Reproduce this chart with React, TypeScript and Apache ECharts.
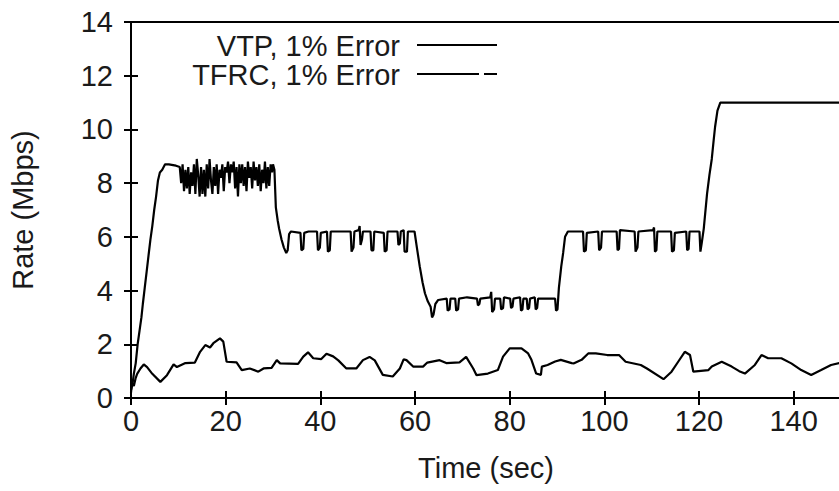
import { useEffect, useRef } from "react";
import * as echarts from "echarts";

// Sending rate over time, [seconds, Mbps]
const vtpSamples: [number, number][] = [
  [0, 0.3], [0.3, 0.5], [0.6, 0.9], [1.0, 1.3], [1.4, 2.0], [1.8, 2.5], [2.2, 3.0],
  [2.5, 3.5], [2.9, 4.1], [3.3, 4.7], [3.7, 5.3], [4.1, 5.9], [4.5, 6.4], [4.9, 7.0],
  [5.3, 7.5], [5.7, 8.1], [6.1, 8.4], [6.6, 8.5], [7.2, 8.7], [8.0, 8.7], [9.5, 8.65],
  [10.3, 8.6], [10.6, 8.0], [10.9, 8.7], [11.2, 7.7], [11.5, 8.5], [11.8, 7.8], [12.1, 8.6],
  [12.4, 7.6], [12.7, 8.4], [13.0, 7.9], [13.3, 8.7], [13.6, 7.6], [13.9, 8.9], [14.2, 8.3],
  [14.5, 7.5], [14.8, 8.6], [15.1, 7.6], [15.4, 8.5], [15.7, 7.5], [16.0, 8.7], [16.3, 7.8],
  [16.6, 8.9], [16.9, 8.1], [17.2, 7.6], [17.5, 8.6], [17.8, 7.9], [18.1, 8.7], [18.4, 7.6],
  [18.7, 8.5], [19.0, 8.2], [19.3, 8.7], [19.6, 7.7], [19.9, 8.6], [20.2, 8.4], [20.5, 8.8],
  [20.8, 8.0], [21.1, 8.7], [21.4, 8.4], [21.7, 8.8], [22.0, 7.8], [22.3, 8.6], [22.6, 7.5],
  [22.9, 8.7], [23.2, 8.0], [23.5, 8.7], [23.8, 7.9], [24.1, 8.6], [24.4, 7.7], [24.7, 8.8],
  [25.0, 8.2], [25.3, 8.6], [25.6, 7.8], [25.9, 8.8], [26.2, 8.1], [26.5, 8.6], [26.8, 7.9],
  [27.1, 8.7], [27.4, 7.7], [27.7, 8.5], [28.0, 8.0], [28.3, 8.8], [28.6, 7.8], [28.9, 8.6],
  [29.2, 7.9], [29.5, 8.7], [29.8, 8.4], [30.0, 8.7], [30.3, 8.5],
  [30.6, 7.1], [31.0, 6.6], [31.3, 6.3], [31.8, 5.9], [32.3, 5.6], [32.8, 5.4], [33.1, 5.5],
  [33.4, 6.1], [33.8, 6.2], [35.8, 6.15], [36.0, 5.5], [36.4, 5.55], [36.6, 6.15], [37.5, 6.2],
  [39.3, 6.2], [39.5, 5.5], [39.9, 5.6], [40.1, 6.15], [41.4, 6.2], [41.6, 5.45], [42.0, 5.5],
  [42.2, 6.2], [46.4, 6.2], [46.6, 5.45], [47.0, 5.6], [47.2, 6.2], [48.1, 6.25], [48.3, 6.4],
  [48.5, 5.7], [48.8, 5.9], [49.0, 6.2], [50.6, 6.2], [50.8, 5.5], [51.2, 5.5], [51.4, 6.2],
  [53.4, 6.15], [53.6, 5.45], [54.0, 5.5], [54.2, 6.2], [56.3, 6.2], [56.5, 5.7], [56.8, 5.75],
  [57.0, 6.2], [57.6, 6.25], [57.8, 5.45], [58.3, 5.45], [58.5, 6.2], [59.9, 6.2],
  [60.4, 5.6], [61.0, 4.9], [61.6, 4.3], [62.1, 3.9], [62.7, 3.6], [63.3, 3.4], [63.6, 3.0],
  [63.9, 3.1], [64.3, 3.5], [64.9, 3.65], [66.7, 3.7], [66.9, 3.25], [67.3, 3.3], [67.5, 3.7],
  [68.5, 3.7], [68.7, 3.25], [69.1, 3.3], [69.3, 3.7], [71.0, 3.75], [73.1, 3.7], [73.3, 3.45],
  [73.6, 3.5], [73.8, 3.7], [75.9, 3.75], [76.1, 3.95], [76.3, 3.2], [76.7, 3.3], [76.9, 3.7],
  [78.0, 3.7], [78.2, 3.3], [78.6, 3.35], [78.8, 3.75], [80.1, 3.7], [80.3, 3.35], [80.6, 3.4],
  [80.8, 3.7], [82.2, 3.75], [82.4, 3.25], [82.7, 3.3], [82.9, 3.7], [83.6, 3.7], [83.8, 3.3],
  [84.1, 3.35], [84.3, 3.7], [85.3, 3.75], [85.5, 3.3], [85.8, 3.35], [86.0, 3.7], [89.6, 3.7],
  [89.8, 3.25], [90.1, 3.3], [90.4, 4.1], [90.9, 4.9], [91.3, 5.4], [91.7, 6.0], [92.3, 6.2],
  [95.5, 6.2], [95.7, 5.45], [96.1, 5.5], [96.3, 6.15], [98.7, 6.2], [98.9, 5.5], [99.3, 5.6],
  [99.5, 6.2], [102.6, 6.2], [102.8, 5.5], [103.1, 5.55], [103.3, 6.25], [106.4, 6.2],
  [106.6, 5.45], [107.0, 5.6], [107.2, 6.2], [110.3, 6.25], [110.5, 6.35], [110.7, 5.45],
  [111.0, 5.5], [111.2, 6.2], [114.1, 6.2], [114.3, 5.45], [114.7, 5.5], [114.9, 6.15],
  [117.3, 6.2], [117.5, 5.5], [117.8, 5.55], [118.0, 6.2], [120.1, 6.2], [120.3, 5.45],
  [120.6, 5.8], [121.0, 6.3], [121.7, 7.6], [122.2, 8.3], [122.7, 8.9], [123.1, 9.6],
  [123.4, 10.1], [123.9, 10.7], [124.5, 11.0], [150, 11.0],
];

const tfrcSamples: [number, number][] = [
  [0, 0.2], [0.2, 0.55], [0.6, 0.45], [1.0, 0.75], [1.3, 0.9], [2.0, 1.1], [2.7, 1.25],
  [3.4, 1.15], [4.5, 0.9], [6.2, 0.6], [7.6, 0.85], [9.0, 1.25], [9.7, 1.15], [11.5, 1.3],
  [13.5, 1.32], [14.6, 1.72], [15.7, 1.97], [16.7, 1.88], [17.4, 2.04], [18.8, 2.22],
  [19.5, 2.1], [20.2, 1.35], [22.3, 1.33], [23.4, 1.04], [25.1, 1.1], [26.9, 0.98],
  [28.0, 1.1], [29.7, 1.12], [30.8, 1.41], [31.5, 1.29], [35.3, 1.27], [36.4, 1.54],
  [37.4, 1.7], [38.5, 1.48], [40.2, 1.45], [41.3, 1.65], [42.7, 1.55], [43.8, 1.4],
  [45.5, 1.1], [47.6, 1.1], [49.0, 1.41], [50.4, 1.53], [51.5, 1.4], [53.2, 0.86],
  [55.3, 0.8], [56.8, 1.1], [57.6, 1.44], [58.2, 1.41], [59.6, 1.17], [61.7, 1.17],
  [62.6, 1.32], [65.2, 1.41], [66.6, 1.3], [69.4, 1.33], [70.8, 1.53], [72.3, 1.1],
  [73.0, 0.85], [75.4, 0.91], [77.5, 1.04], [78.6, 1.54], [80.0, 1.85], [82.5, 1.85],
  [83.9, 1.66], [84.6, 1.42], [85.6, 0.91], [86.6, 0.86], [86.8, 1.17], [88.0, 1.23],
  [89.6, 1.36], [90.8, 1.42], [93.1, 1.3], [93.6, 1.29], [95.2, 1.42], [96.6, 1.66],
  [98.2, 1.66], [100.6, 1.6], [103.1, 1.6], [104.5, 1.35], [107.7, 1.23], [109.0, 1.1],
  [112.5, 0.7], [114.2, 0.98], [115.6, 1.35], [117.0, 1.72], [118.1, 1.6], [118.8, 0.98],
  [122.0, 1.04], [122.7, 1.17], [124.8, 1.35], [126.9, 1.17], [128.5, 1.0], [129.7, 0.91],
  [131.8, 1.23], [133.2, 1.6], [134.6, 1.48], [137.4, 1.48], [139.5, 1.29], [141.6, 1.04],
  [143.7, 0.86], [145.8, 1.04], [147.9, 1.23], [150, 1.32],
];

const seriesNames = ["VTP, 1% Error", "TFRC, 1% Error"];
const xRange = { min: 0, max: 150, interval: 20 };
const yRange = { min: 0, max: 14, interval: 2 };

const FONT = "Liberation Sans, Arial, sans-serif";
const FONT_SIZE = 29;
const TEXT = "#1a1a1a";
const LINE_WIDTH = 2.2;
// key sample for the second trace: long dash, short gap, short dash
const TFRC_KEY_DASH = [62, 5];

export default function App() {
  const ref = useRef<HTMLDivElement>(null);

  useEffect(() => {
    if (!ref.current) return;
    const chart = echarts.init(ref.current, null, { renderer: "svg" });

    const tick = { show: true, inside: true, length: 7, lineStyle: { color: "#000", width: 2 } };
    const hiddenLine = { show: false };
    const labelFont = { fontFamily: FONT, fontSize: FONT_SIZE, color: TEXT };

    chart.setOption({
      animation: false,
      backgroundColor: "#fff",
      grid: {
        left: 129,
        right: 4,
        top: 22,
        bottom: 93,
        show: true,
        borderColor: "#000",
        borderWidth: 2,
        backgroundColor: "transparent",
      },
      xAxis: [
        {
          type: "value",
          ...xRange,
          position: "bottom",
          name: "Time (sec)",
          nameLocation: "middle",
          nameGap: 55,
          nameTextStyle: labelFont,
          axisLine: hiddenLine,
          axisTick: tick,
          splitLine: { show: false },
          axisLabel: { ...labelFont, margin: 8, showMaxLabel: false },
        },
        {
          type: "value",
          ...xRange,
          position: "top",
          axisLine: hiddenLine,
          axisTick: tick,
          splitLine: { show: false },
          axisLabel: { show: false },
        },
      ],
      yAxis: [
        {
          type: "value",
          ...yRange,
          position: "left",
          name: "Rate (Mbps)",
          nameLocation: "middle",
          nameGap: 94,
          nameTextStyle: labelFont,
          axisLine: hiddenLine,
          axisTick: tick,
          splitLine: { show: false },
          axisLabel: { ...labelFont, margin: 18 },
        },
        {
          type: "value",
          ...yRange,
          position: "right",
          axisLine: hiddenLine,
          axisTick: tick,
          splitLine: { show: false },
          axisLabel: { show: false },
        },
      ],
      series: [
        {
          name: seriesNames[0],
          type: "line",
          data: vtpSamples,
          showSymbol: false,
          lineStyle: { color: "#000", width: LINE_WIDTH },
          xAxisIndex: 0,
          yAxisIndex: 0,
        },
        {
          name: seriesNames[1],
          type: "line",
          data: tfrcSamples,
          showSymbol: false,
          lineStyle: { color: "#000", width: LINE_WIDTH },
          xAxisIndex: 0,
          yAxisIndex: 0,
        },
      ],
      graphic: [
        {
          type: "text",
          x: 400,
          y: 46,
          style: {
            text: seriesNames[0],
            fontFamily: FONT,
            fontSize: FONT_SIZE,
            fill: TEXT,
            align: "right",
            verticalAlign: "middle",
          },
        },
        {
          type: "line",
          shape: { x1: 417, y1: 45, x2: 497, y2: 45 },
          style: { stroke: "#000", lineWidth: 2 },
        },
        {
          type: "text",
          x: 400,
          y: 75,
          style: {
            text: seriesNames[1],
            fontFamily: FONT,
            fontSize: FONT_SIZE,
            fill: TEXT,
            align: "right",
            verticalAlign: "middle",
          },
        },
        {
          type: "line",
          shape: { x1: 417, y1: 74, x2: 497, y2: 74 },
          style: { stroke: "#000", lineWidth: 2, lineDash: TFRC_KEY_DASH },
        },
      ],
    });

    return () => chart.dispose();
  }, []);

  return (
    <div
      style={{
        position: "absolute",
        left: 0,
        top: 0,
        width: 839,
        height: 491,
        overflow: "hidden",
        background: "#fff",
      }}
    >
      <div ref={ref} style={{ width: 845, height: 491 }} />
    </div>
  );
}
